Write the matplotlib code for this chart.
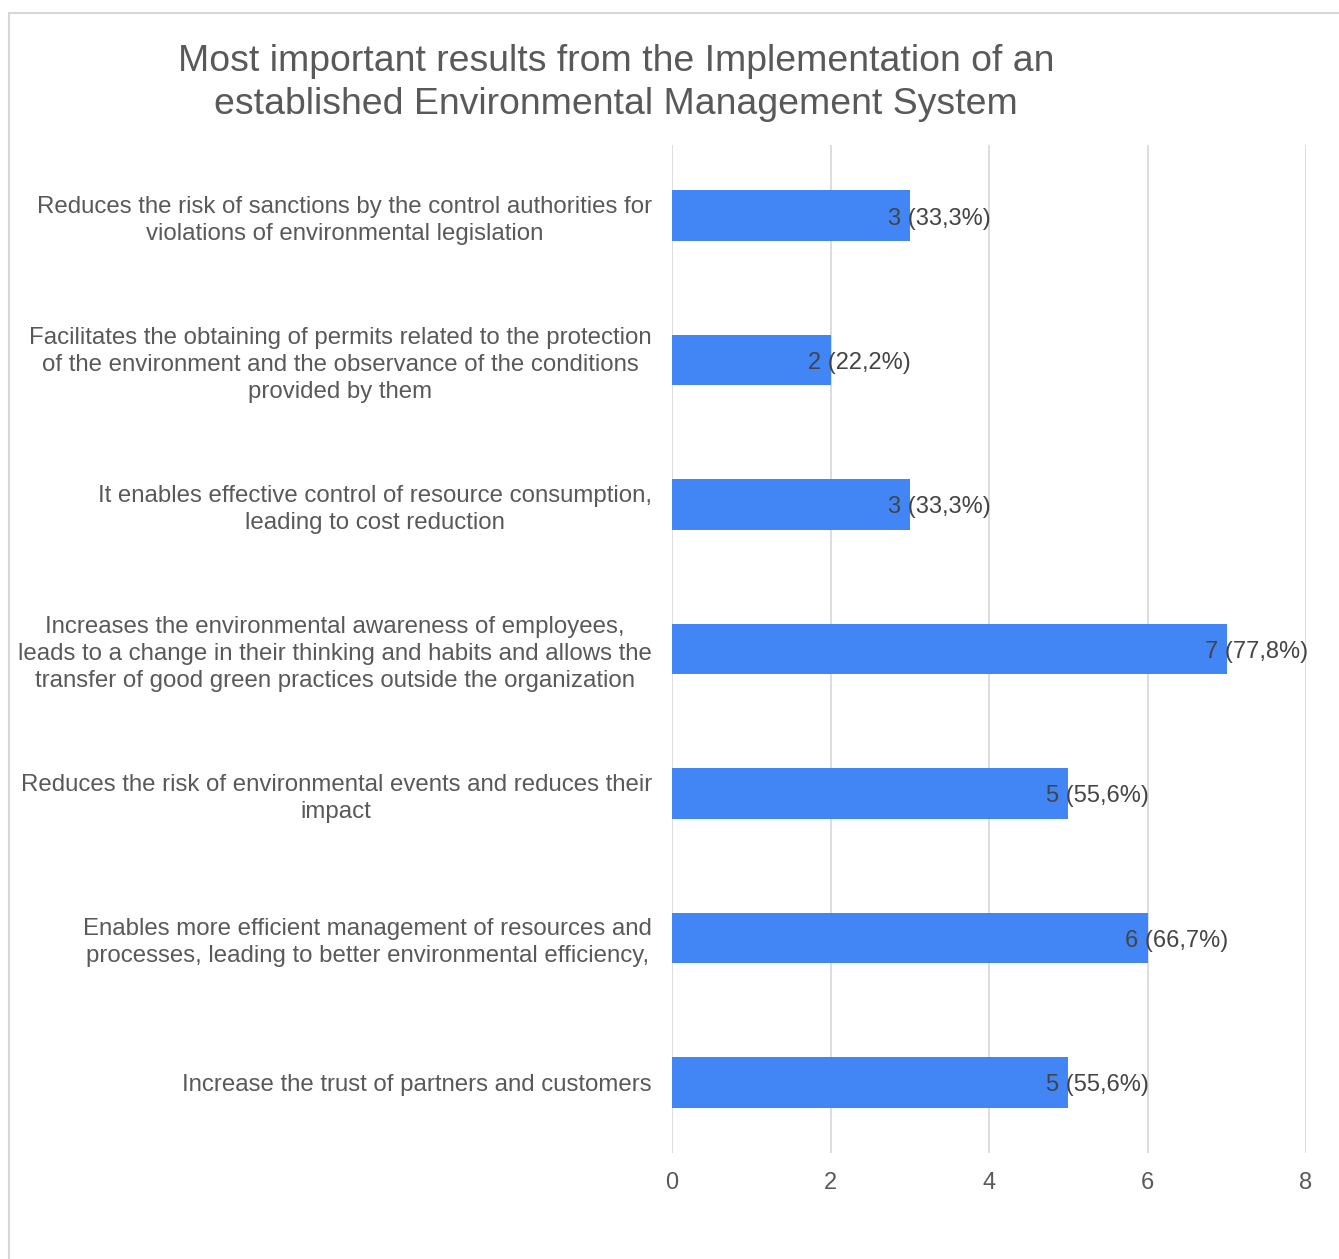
import matplotlib.pyplot as plt
from matplotlib.patches import Rectangle

plt.rcParams["font.family"] = ["Liberation Sans", "DejaVu Sans"]

title = ("Most important results from the Implementation of an\n"
         "established Environmental Management System")

categories = [
    "Reduces the risk of sanctions by the control authorities for\n"
    "violations of environmental legislation",
    "Facilitates the obtaining of permits related to the protection\n"
    "of the environment and the observance of the conditions\n"
    "provided by them",
    "It enables effective control of resource consumption,\n"
    "leading to cost reduction",
    "Increases the environmental awareness of employees,\n"
    "leads to a change in their thinking and habits and allows the\n"
    "transfer of good green practices outside the organization",
    "Reduces the risk of environmental events and reduces their\n"
    "impact",
    "Enables more efficient management of resources and\n"
    "processes, leading to better environmental efficiency,",
    "Increase the trust of partners and customers",
]
counts = [3, 2, 3, 7, 5, 6, 5]
shares = ["33,3%", "22,2%", "33,3%", "77,8%", "55,6%", "66,7%", "55,6%"]
xticks = [0, 2, 4, 6, 8]

BAR = "#4285F4"
TEXT = "#595959"
GRID = "#dadada"

W, H = 1339, 1259
fig = plt.figure(figsize=(W / 100, H / 100), dpi=100)

# light frame around the chart
fig.patches.append(Rectangle((9 / W, -0.05), 1.2, 1 - 13 / H + 0.05,
                             transform=fig.transFigure, fill=False,
                             edgecolor="#d6d6d6", linewidth=1.5))

fig.text(616 / W, 1 - 83 / H, title, ha="center", va="center",
         fontsize=26.9, color=TEXT, linespacing=1.33)

left, right, top, bottom = 672, 1306, 145, 1153
ax = fig.add_axes([left / W, 1 - bottom / H, (right - left) / W, (bottom - top) / H])

pos = list(range(len(categories)))
ax.barh(pos, counts, height=0.35, color=BAR, zorder=2)

for y, c, s in zip(pos, counts, shares):
    ax.annotate(f"{c} ({s})", (c, y), xytext=(-16, -2), textcoords="offset points",
                ha="left", va="center", fontsize=17, color="#444444", zorder=3)

ax.set_xlim(0, 8)
ax.set_ylim(len(categories) - 0.51, -0.49)
ax.set_xticks(xticks)
ax.set_xticklabels([str(t) for t in xticks])
ax.set_yticks(pos)
ax.set_yticklabels(categories)
for lbl in ax.get_yticklabels():
    lbl.set_multialignment("center")
    lbl.set_linespacing(1.3)

ax.grid(axis="x", color=GRID, linewidth=1.3, zorder=0)
ax.tick_params(axis="x", length=0, pad=14, labelsize=17, labelcolor=TEXT)
ax.tick_params(axis="y", length=0, pad=14.5, labelsize=17.3, labelcolor=TEXT)
for sp in ax.spines.values():
    sp.set_visible(False)

fig.savefig("out.png", dpi=100)
